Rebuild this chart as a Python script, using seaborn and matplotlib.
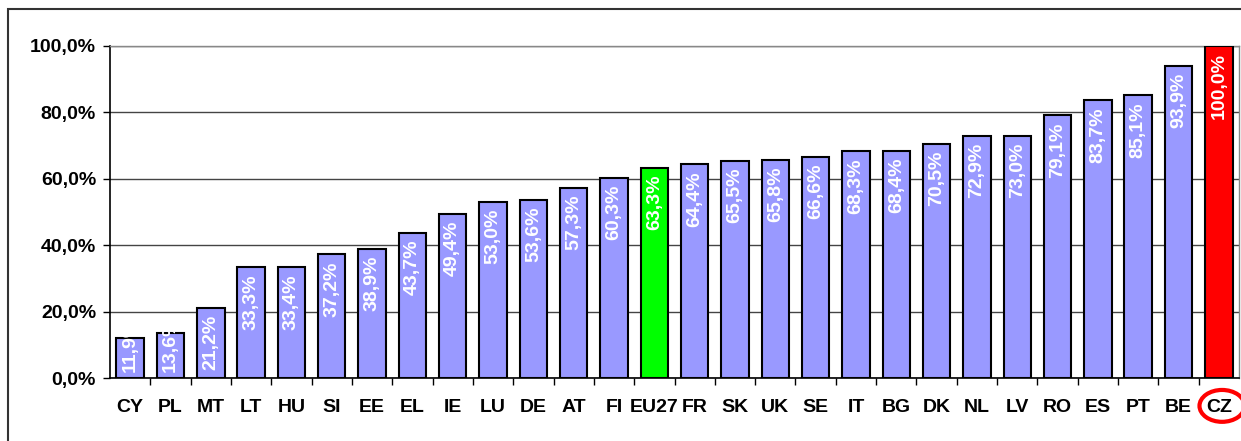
import matplotlib
matplotlib.use("Agg")
import matplotlib.pyplot as plt
import matplotlib.transforms as mtransforms
from matplotlib.patches import Rectangle, Ellipse
from matplotlib.ticker import FuncFormatter, FixedLocator
import seaborn as sns

# %% Data
countries = ["CY", "PL", "MT", "LT", "HU", "SI", "EE", "EL", "IE", "LU", "DE", "AT", "FI", "EU27",
             "FR", "SK", "UK", "SE", "IT", "BG", "DK", "NL", "LV", "RO", "ES", "PT", "BE", "CZ"]
values = [11.9, 13.6, 21.2, 33.3, 33.4, 37.2, 38.9, 43.7, 49.4, 53.0, 53.6, 57.3, 60.3, 63.3,
          64.4, 65.5, 65.8, 66.6, 68.3, 68.4, 70.5, 72.9, 73.0, 79.1, 83.7, 85.1, 93.9, 100.0]
bar_blue = "#9999FF"
highlight = {"EU27": "#00FF00", "CZ": "#FF0000"}
palette = {c: highlight.get(c, bar_blue) for c in countries}

plt.rcParams['font.family'] = ['Liberation Sans', 'DejaVu Sans']

# %% Plot
fig = plt.figure(figsize=(12.41, 4.41), dpi=100)
ax = fig.add_axes([110 / 1241, 1 - 378 / 441, 1129 / 1241, 332 / 441])

sns.barplot(x=countries, y=values, hue=countries, palette=palette, legend=False,
            width=0.68, edgecolor="black", linewidth=1.5, saturation=1, ax=ax, zorder=3)

ax.set_ylim(0, 100)
ax.set_xlim(-0.5, len(countries) - 0.5)
ax.set_yticks(range(0, 101, 20))
ax.yaxis.set_major_formatter(FuncFormatter(lambda v, p: f"{v:.1f}%".replace(".", ",")))
ax.grid(axis="y", color="#444444", linewidth=1, zorder=0)
ax.set_axisbelow(True)

for s in ["top", "right"]:
    ax.spines[s].set_color("#888888")
    ax.spines[s].set_linewidth(1)
for s in ["left", "bottom"]:
    ax.spines[s].set_color("black")
    ax.spines[s].set_linewidth(1.2)

ax.tick_params(axis="y", length=5, width=1, pad=5, labelsize=14)
ax.tick_params(axis="x", which="major", length=0, pad=15, labelsize=14)
ax.xaxis.set_minor_locator(FixedLocator([i + 0.5 for i in range(len(countries) - 1)]))
ax.tick_params(axis="x", which="minor", length=5, width=1)
for lab in ax.get_xticklabels() + ax.get_yticklabels():
    lab.set_fontweight("bold")
ax.set_xlabel("")
ax.set_ylabel("")

# value labels inside bars
for bar, v in zip(ax.patches, values):
    xc = bar.get_x() + bar.get_width() / 2
    txt = f"{v:.1f}%".replace(".", ",")
    if v > 20:
        t = ax.annotate(txt, (xc, v), xytext=(0, -5), textcoords="offset points",
                        rotation=90, ha="center", va="top", color="white",
                        fontsize=14, fontweight="bold", zorder=4)
    else:
        t = ax.annotate(txt, (xc, 0), xytext=(0, 4), textcoords="offset points",
                        rotation=90, ha="center", va="bottom", color="white",
                        fontsize=14, fontweight="bold", zorder=4)
        clip = Rectangle((bar.get_x(), 0), bar.get_width(), v + 1, transform=ax.transData)
        t.set_clip_path(clip)

# red ellipse round CZ label
trans = mtransforms.blended_transform_factory(ax.transData, ax.transAxes)
ax.add_patch(Ellipse((countries.index("CZ") + 0.08, -0.084), 1.12, 0.096, transform=trans,
                     fill=False, edgecolor="#FF0000", linewidth=3, clip_on=False, zorder=5))

# outer frame
fig.patches.append(Rectangle((8 / 1241, -0.1), 2, 1 - 9 / 441 + 0.1, transform=fig.transFigure,
                             fill=False, edgecolor="#333333", linewidth=1.5, figure=fig))

fig.savefig("out.png", dpi=100)
